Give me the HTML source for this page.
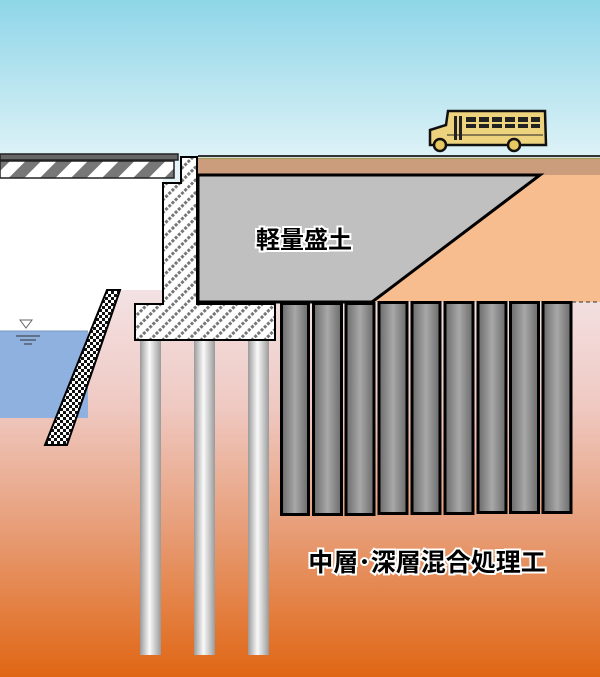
<!DOCTYPE html>
<html><head><meta charset="utf-8"><style>html,body{margin:0;padding:0;}svg{display:block}</style></head><body>
<svg width="600" height="677" viewBox="0 0 600 677" xmlns="http://www.w3.org/2000/svg">
<defs>
<linearGradient id="sky" x1="0" y1="0" x2="0" y2="1"><stop offset="0" stop-color="#8ed6e8"/><stop offset="0.25" stop-color="#e4f4f8"/><stop offset="0.5" stop-color="#fcfdfd"/><stop offset="1" stop-color="#ffffff"/></linearGradient>
<linearGradient id="gnd" x1="0" y1="0" x2="0" y2="1"><stop offset="0" stop-color="#f3e2e4"/><stop offset="0.3" stop-color="#efc9c2"/><stop offset="0.6" stop-color="#e8a07c"/><stop offset="1" stop-color="#e06614"/></linearGradient>
<linearGradient id="pile" x1="0" y1="0" x2="1" y2="0"><stop offset="0" stop-color="#9a9a9a"/><stop offset="0.45" stop-color="#fafafa"/><stop offset="1" stop-color="#9a9a9a"/></linearGradient>
<linearGradient id="col" x1="0" y1="0" x2="1" y2="0"><stop offset="0" stop-color="#6a6a6a"/><stop offset="0.5" stop-color="#a8a8a8"/><stop offset="1" stop-color="#6a6a6a"/></linearGradient>
<pattern id="hatch" width="9" height="9" patternUnits="userSpaceOnUse" patternTransform="rotate(-45)"><rect width="9" height="9" fill="#fff"/><line x1="0" y1="4.5" x2="9" y2="4.5" stroke="#777" stroke-width="3" stroke-dasharray="3 1.5"/></pattern>
<pattern id="stripe" width="22" height="22" patternUnits="userSpaceOnUse" patternTransform="rotate(45)"><rect width="22" height="22" fill="#fff"/><rect width="11" height="22" fill="#777"/></pattern>
<pattern id="chk" width="6" height="6" patternUnits="userSpaceOnUse"><rect width="6" height="6" fill="#fff"/><rect width="3" height="3" fill="#111"/><rect x="3" y="3" width="3" height="3" fill="#111"/></pattern>
</defs>
<rect width="600" height="677" fill="url(#sky)"/>
<rect y="290" width="600" height="387" fill="url(#gnd)"/>
<rect x="0" y="178" width="163" height="112" fill="#fff"/>
<polygon points="0,289 108,289 94,332 0,332" fill="#fff"/>
<rect x="0" y="331" width="88" height="87" fill="#8eb1e0"/>
<line x1="0" y1="331" x2="88" y2="331" stroke="#7a98c0" stroke-width="1"/>
<polygon points="20,320 32,320 26,328" fill="#fff" stroke="#666" stroke-width="1"/>
<line x1="16" y1="336" x2="40" y2="336" stroke="#333"/><line x1="20" y1="340" x2="36" y2="340" stroke="#333"/><line x1="24" y1="344" x2="32" y2="344" stroke="#333"/>
<polygon points="107,290 120,290 67,445 45,445" fill="url(#chk)" stroke="#000" stroke-width="2"/>
<polygon points="198,175 600,175 600,302 198,302" fill="#f8bd8f"/>
<line x1="572" y1="302" x2="600" y2="302" stroke="#333" stroke-dasharray="4 3"/>
<rect x="198" y="158" width="402" height="17" fill="#cc9d7d"/>
<line x1="198" y1="156" x2="600" y2="156" stroke="#333" stroke-width="2"/>
<line x1="198" y1="158.5" x2="600" y2="158.5" stroke="#a99a5e" stroke-width="1.5"/>
<polygon points="198,175 540,175 372,302 198,302" fill="#c0c0c0" stroke="#000" stroke-width="3"/>
<rect x="0" y="154" width="178" height="6" fill="#666" stroke="#222" stroke-width="1.5"/>
<rect x="0" y="161" width="174" height="17" fill="url(#stripe)" stroke="#222" stroke-width="1.5"/>
<polygon points="181,157 197,157 197,304 275,304 275,340 135,340 135,304 163,304 163,183 181,183" fill="url(#hatch)" stroke="#000" stroke-width="2"/>
<rect x="140" y="341" width="21" height="314" fill="url(#pile)"/>
<rect x="194" y="341" width="21" height="314" fill="url(#pile)"/>
<rect x="248" y="341" width="21" height="314" fill="url(#pile)"/>
<g stroke="#000" stroke-width="3" fill="url(#col)">
<rect x="281.5" y="303.5" width="27" height="211"/>
<rect x="313.5" y="303.5" width="28" height="211"/>
<rect x="346" y="303.5" width="28" height="211"/>
<rect x="379" y="302.5" width="28" height="211"/>
<rect x="412" y="302.5" width="28" height="211"/>
<rect x="445" y="302.5" width="28" height="211"/>
<rect x="478" y="302.5" width="28" height="210"/>
<rect x="510.5" y="302.5" width="28" height="210"/>
<rect x="543" y="302.5" width="28" height="210"/>
</g>
<g>
<path d="M430,130 L446,125 L448,111 L545,111 L546,145 L430,145 Z" fill="#eed37e" stroke="#111" stroke-width="2.5"/>
<g fill="#222"><rect x="466" y="117" width="10" height="5"/><rect x="479" y="117" width="10" height="5"/><rect x="492" y="117" width="10" height="5"/><rect x="505" y="117" width="10" height="5"/><rect x="518" y="117" width="10" height="5"/><rect x="531" y="117" width="9" height="5"/>
<rect x="466" y="124" width="10" height="4"/><rect x="479" y="124" width="10" height="4"/><rect x="492" y="124" width="10" height="4"/><rect x="505" y="124" width="10" height="4"/><rect x="518" y="124" width="10" height="4"/><rect x="531" y="124" width="9" height="4"/>
<rect x="454" y="116" width="3" height="24"/><rect x="459" y="116" width="3" height="24"/></g>
<line x1="447" y1="135" x2="543" y2="135" stroke="#222"/>
<circle cx="440" cy="145" r="6" fill="#e8c860" stroke="#111" stroke-width="2.5"/>
<circle cx="514" cy="145" r="6" fill="#e8c860" stroke="#111" stroke-width="2.5"/>
</g>
<g font-family="Liberation Sans, Noto Sans CJK JP, sans-serif" font-weight="bold" text-anchor="middle">
<text x="304" y="248" font-size="24" fill="#000" stroke="#fff" stroke-width="4" paint-order="stroke">軽量盛土</text>
<text x="427" y="571" font-size="25" fill="#000" stroke="#fff" stroke-width="4" paint-order="stroke">中層･深層混合処理工</text>
</g>
</svg>
</body></html>
